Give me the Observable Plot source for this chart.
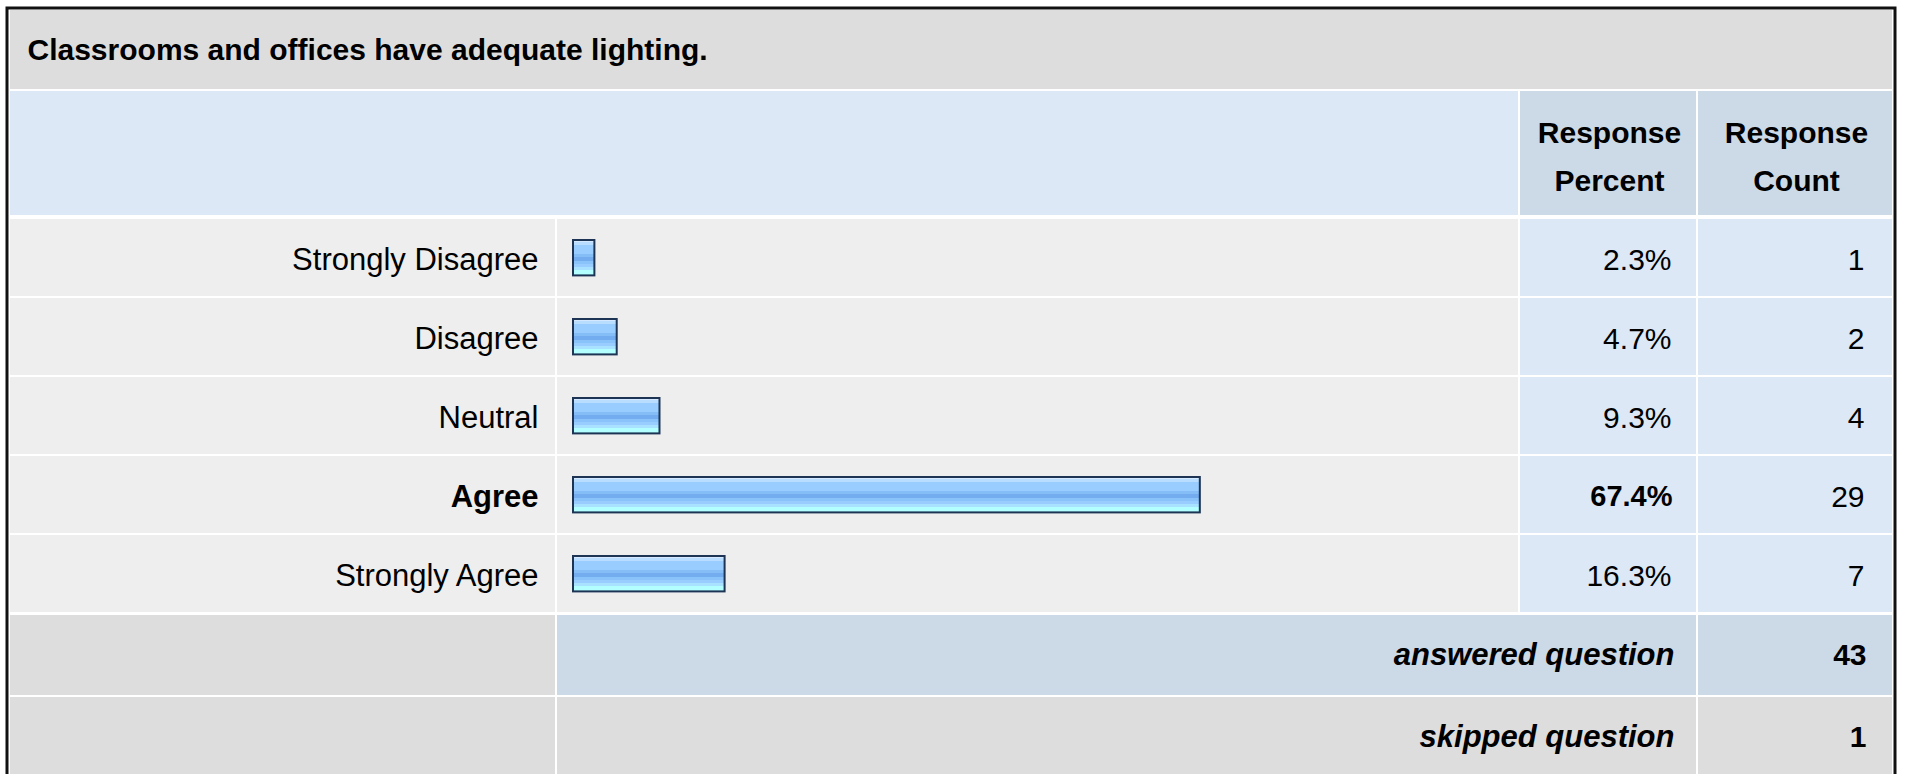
<!DOCTYPE html>
<html>
<head>
<meta charset="utf-8">
<script src="https://cdn.jsdelivr.net/npm/d3@7"></script>
<script src="https://cdn.jsdelivr.net/npm/@observablehq/plot@0.6"></script>
<style>
  html, body { margin: 0; padding: 0; background: #ffffff; }
  #chart svg { display: block; }
</style>
</head>
<body>
<div id="chart"></div>
<script>
// ---------- data ----------
const question = "Classrooms and offices have adequate lighting.";
const categories = ["Strongly Disagree", "Disagree", "Neutral", "Agree", "Strongly Agree"];
const percents = [2.3, 4.7, 9.3, 67.4, 16.3];
const counts = [1, 2, 4, 29, 7];
const headerLabels = ["Response\nPercent", "Response\nCount"];
const summaryLabels = ["answered question", "skipped question"];
const summaryValues = [43, 1];

// ---------- layout (pixels) ----------
const W = 1907, H = 774;
const L = {
  left: 10, right: 1892,
  labelR: 555, barL: 557, barR: 1518, pctL: 1520, pctR: 1696, cntL: 1698,
  titleT: 10, titleB: 89, headT: 91, headB: 215,
  bodyT: 217, bodyB: 615,
  ansT: 615, ansB: 695, skipT: 697, skipB: 777,
  barX0: 573, pxPerPct: 9.3
};
const FONT = "'Liberation Sans', Arial, Helvetica, sans-serif";
const C = {
  title: "#dddddd", headLight: "#dce8f5", headDark: "#ccd9e6",
  cell: "#eeeeee", valueCell: "#dce8f5", footGray: "#dddddd", footBlue: "#ccd9e6",
  barStroke: "#1d3455"
};

const rows = categories.map((c, i) => ({
  category: c, percent: percents[i], count: counts[i],
  top: percents[i] === d3.max(percents)
}));

const xs = d3.scaleLinear([0, 100], [L.barX0, L.barX0 + 100 * L.pxPerPct]);
const colX = px => xs.invert(px);
const bandH = (L.bodyB - L.bodyT) / categories.length;

// static table background (non-data rows) + gradient definition
function backgroundMark() {
  const g = d3.create("svg:g");
  const defs = g.append("defs");
  const grad = defs.append("linearGradient").attr("id", "barGrad")
    .attr("x1", 0).attr("y1", 0).attr("x2", 0).attr("y2", 1);
  const stops = [
    [0, "#d4e9ff"], [0.06, "#d4e9ff"], [0.06, "#b8ddff"], [0.13, "#b8ddff"],
    [0.13, "#99ccff"], [0.40, "#99ccff"], [0.40, "#85bdf7"], [0.47, "#85bdf7"],
    [0.47, "#73adf0"], [0.60, "#73adf0"], [0.60, "#8ac2fa"], [0.68, "#8ac2fa"],
    [0.68, "#99ccff"], [0.77, "#99ccff"], [0.77, "#a8e2ff"], [0.84, "#a8e2ff"],
    [0.84, "#b3ffff"], [1, "#b3ffff"]
  ];
  for (const [o, c] of stops) grad.append("stop").attr("offset", o).attr("stop-color", c);

  const rect = (x0, y0, x1, y1, fill) =>
    g.append("rect").attr("x", x0).attr("y", y0).attr("width", x1 - x0).attr("height", y1 - y0).attr("fill", fill);
  // title row
  rect(L.left, L.titleT, L.right, L.titleB, C.title);
  // header row
  rect(L.left, L.headT, L.pctL - 2, L.headB, C.headLight);
  rect(L.pctL, L.headT, L.pctR, L.headB, C.headDark);
  rect(L.cntL, L.headT, L.right, L.headB, C.headDark);
  // answered row
  rect(L.left, L.ansT, L.labelR, L.ansB, C.footGray);
  rect(L.barL, L.ansT, L.pctR, L.ansB, C.footBlue);
  rect(L.cntL, L.ansT, L.right, L.ansB, C.footBlue);
  // skipped row
  rect(L.left, L.skipT, L.labelR, L.skipB, C.footGray);
  rect(L.barL, L.skipT, L.pctR, L.skipB, C.footGray);
  rect(L.cntL, L.skipT, L.right, L.skipB, C.footGray);
  return g.node();
}

function borderMark() {
  const g = d3.create("svg:g");
  g.append("rect").attr("x", 7).attr("y", 8).attr("width", 1888).attr("height", 790)
    .attr("fill", "none").attr("stroke", "#111111").attr("stroke-width", 3);
  return g.node();
}

const cellCol = (x0, x1, fill) => Plot.barX(rows, {
  y: "category", x1: () => colX(x0), x2: () => colX(x1), fill, insetBottom: 2
});

const textBase = { fontSize: 30, fill: "#000000" };

const chart = Plot.plot({
  width: W, height: H,
  marginTop: 0, marginRight: 0, marginBottom: 0, marginLeft: 0,
  style: { background: "#ffffff", fontFamily: FONT, overflow: "visible" },
  x: { domain: [0, 100], range: xs.range(), axis: null },
  y: { type: "band", domain: categories, range: [L.bodyT, L.bodyB], padding: 0, axis: null },
  marks: [
    backgroundMark,
    // data-row cells
    cellCol(L.left, L.labelR, C.cell),
    cellCol(L.barL, L.barR, C.cell),
    cellCol(L.pctL, L.pctR, C.valueCell),
    cellCol(L.cntL, L.right, C.valueCell),
    // bars
    Plot.barX(rows, {
      y: "category", x: "percent", fill: "url(#barGrad)",
      stroke: C.barStroke, strokeWidth: 2,
      insetTop: 21, insetBottom: bandH - 21 - 36
    }),
    // title
    Plot.text([question], {
      text: d => d, x: () => colX(27), frameAnchor: "top", dy: 50,
      textAnchor: "start", lineAnchor: "middle", fontWeight: "bold", ...textBase
    }),
    // header
    Plot.text([headerLabels[0]], {
      text: d => d, x: () => colX(1609), frameAnchor: "top", dy: 151.5,
      textAnchor: "middle", lineAnchor: "middle", lineHeight: 1.58, fontWeight: "bold", ...textBase
    }),
    Plot.text([headerLabels[1]], {
      text: d => d, x: () => colX(1796), frameAnchor: "top", dy: 151.5,
      textAnchor: "middle", lineAnchor: "middle", lineHeight: 1.58, fontWeight: "bold", ...textBase
    }),
    // row labels
    Plot.text(rows, {
      filter: d => !d.top, y: "category", x: () => colX(538), text: "category", dy: 1,
      textAnchor: "end", lineAnchor: "middle", ...textBase, fontSize: 31
    }),
    Plot.text(rows, {
      filter: d => d.top, y: "category", x: () => colX(538), text: "category", dy: 1,
      textAnchor: "end", lineAnchor: "middle", fontWeight: "bold", ...textBase, fontSize: 31
    }),
    // percent values
    Plot.text(rows, {
      filter: d => !d.top, y: "category", x: () => colX(1671), text: d => d.percent.toFixed(1) + "%", dy: 1,
      textAnchor: "end", lineAnchor: "middle", ...textBase
    }),
    Plot.text(rows, {
      filter: d => d.top, y: "category", x: () => colX(1672), text: d => d.percent.toFixed(1) + "%", dy: 1,
      textAnchor: "end", lineAnchor: "middle", fontWeight: "bold", ...textBase, fontSize: 29
    }),
    // counts
    Plot.text(rows, {
      y: "category", x: () => colX(1864), text: d => String(d.count), dy: 1,
      textAnchor: "end", lineAnchor: "middle", ...textBase
    }),
    // summary rows
    Plot.text([summaryLabels[0]], {
      text: d => d, x: () => colX(1674), frameAnchor: "top", dy: 655,
      textAnchor: "end", lineAnchor: "middle", fontWeight: "bold", fontStyle: "italic", ...textBase, fontSize: 31
    }),
    Plot.text([summaryValues[0]], {
      text: d => String(d), x: () => colX(1866), frameAnchor: "top", dy: 655,
      textAnchor: "end", lineAnchor: "middle", fontWeight: "bold", ...textBase
    }),
    Plot.text([summaryLabels[1]], {
      text: d => d, x: () => colX(1674), frameAnchor: "top", dy: 737,
      textAnchor: "end", lineAnchor: "middle", fontWeight: "bold", fontStyle: "italic", ...textBase, fontSize: 31
    }),
    Plot.text([summaryValues[1]], {
      text: d => String(d), x: () => colX(1866), frameAnchor: "top", dy: 737,
      textAnchor: "end", lineAnchor: "middle", fontWeight: "bold", ...textBase
    }),
    borderMark
  ]
});

document.getElementById("chart").appendChild(chart);
</script>
</body>
</html>
